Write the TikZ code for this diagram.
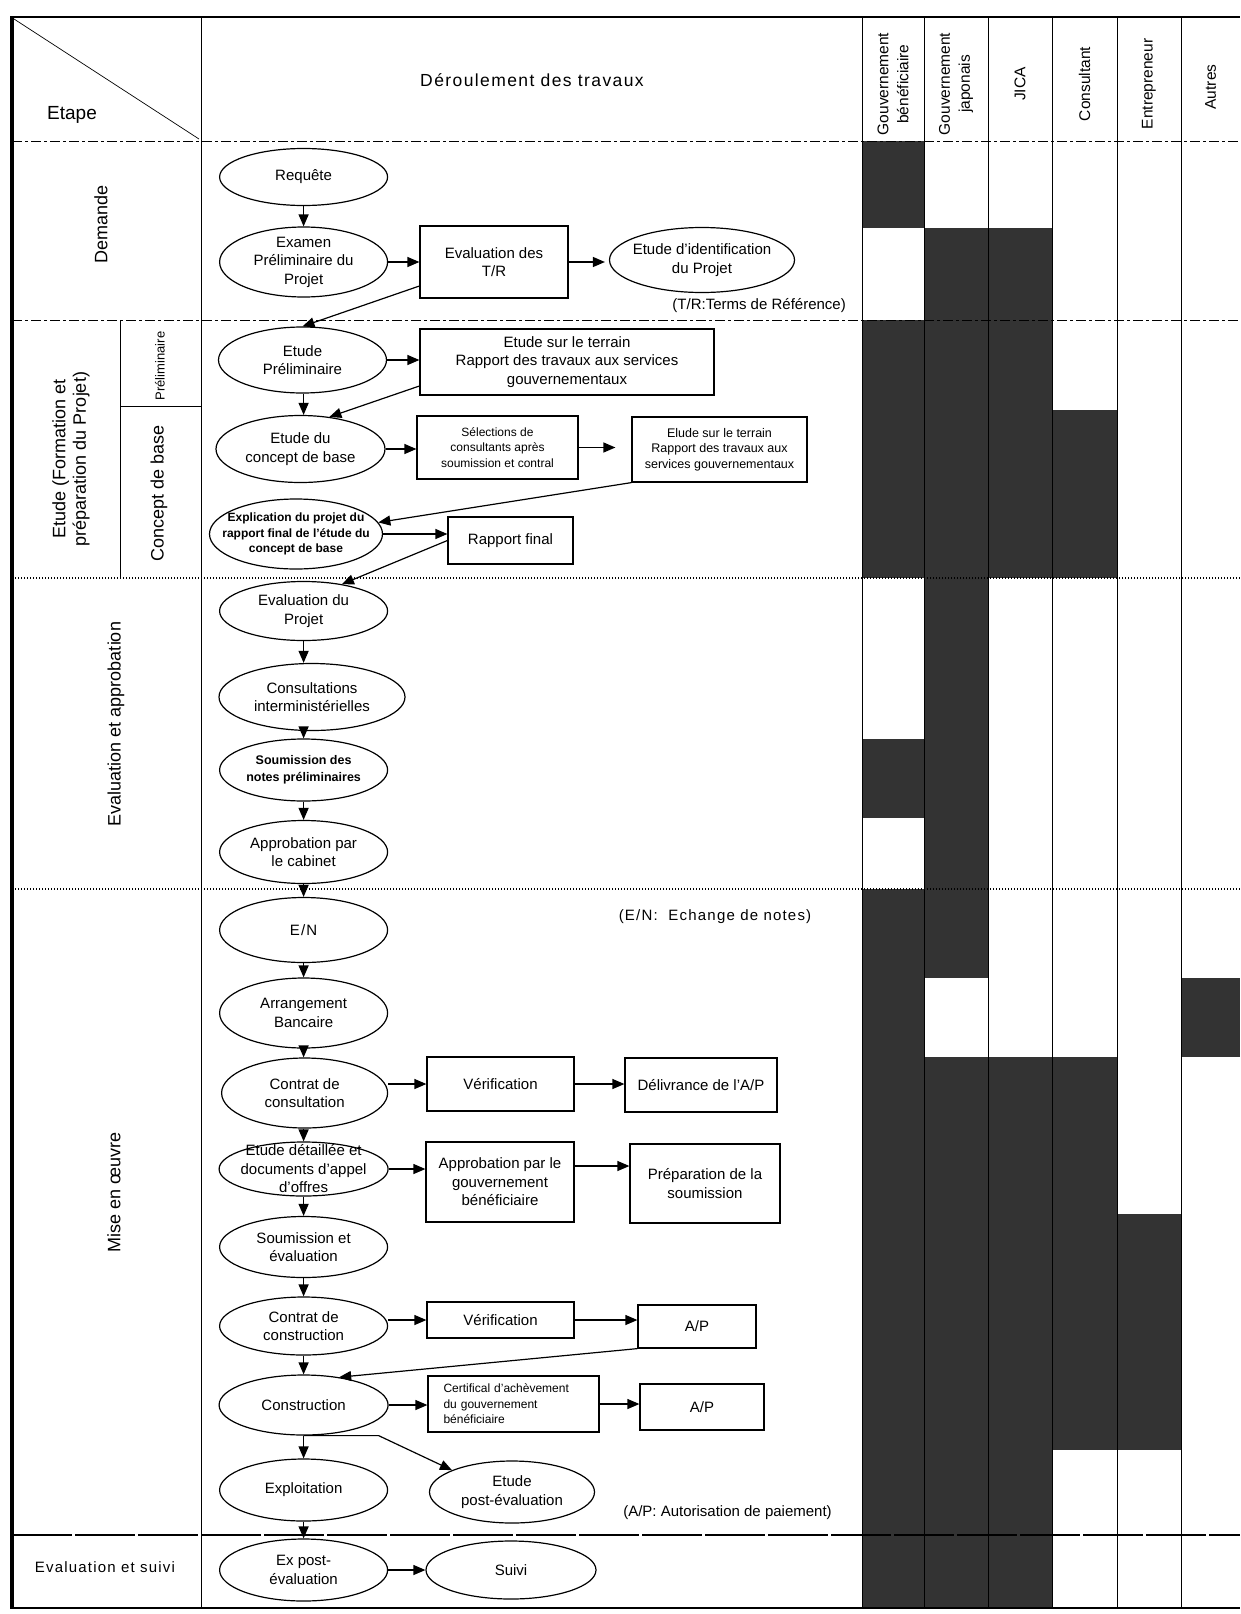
\documentclass[tikz,border=0pt]{standalone}
\usepackage{fontspec}
\setmainfont{Liberation Sans}
\newfontfamily\spacedfont[LetterSpace=8]{Liberation Sans}
\usetikzlibrary{shapes.geometric,arrows.meta,calc}
\newcommand\Ell[7]{%
  \node[ell,minimum width=#4pt,minimum height=#5pt] (#1) at (#2,#3) {};
  \node[#6] (#1-t) at (#1.center) {#7};}
\begin{document}
\begin{tikzpicture}[x=1pt,y=-1pt,
  ell/.style={ellipse,draw,line width=1.2pt,inner sep=0pt,fill=white},
  lbl/.style={align=center,inner sep=0pt,font=\fontsize{15}{18.5}\selectfont},
  lblsm/.style={align=center,inner sep=0pt,font=\bfseries\fontsize{12}{15.4}\selectfont},
  lblsb/.style={align=center,inner sep=0pt,font=\bfseries\fontsize{12.5}{17.5}\selectfont},
  lblsp/.style={align=center,inner sep=0pt,font=\spacedfont\fontsize{15}{18.5}\selectfont},
  bx/.style={rectangle,draw,line width=1.2pt,inner sep=0pt,align=center,fill=white,font=\fontsize{15}{18.5}\selectfont},
  bxsm/.style={bx,font=\fontsize{12}{15.4}\selectfont},
  arr/.style={-{Triangle[length=12pt,width=10pt]},line width=1.2pt},
  dk/.style={fill=black!80},
  ln/.style={line width=1pt},
  sepdash/.style={line width=0.9pt,dash pattern=on 10pt off 3pt on 3pt off 3pt},
  sepdot/.style={line width=1.6pt,dash pattern=on 1.4pt off 1.6pt},
  seplong/.style={line width=1.3pt,dash pattern=on 60pt off 3pt},
  side/.style={rotate=90,align=center,font=\fontsize{18}{20.5}\selectfont,inner sep=0pt},
  colh/.style={rotate=90,align=center,font=\fontsize{15.5}{20}\selectfont,inner sep=0pt},
  note/.style={inner sep=0pt,font=\fontsize{15}{18}\selectfont}]
\useasboundingbox (0,0) rectangle (1240,1614);
\fill[white] (0,0) rectangle (1240,1614);

% ---- shading of the participation table
\fill[dk] (862,141) rectangle (924,228);
\fill[dk] (862,320) rectangle (924,578);
\fill[dk] (862,739) rectangle (924,818);
\fill[dk] (862,889) rectangle (924,1608);
\fill[dk] (924,228) rectangle (988,978);
\fill[dk] (924,1057) rectangle (988,1608);
\fill[dk] (988,228) rectangle (1052,578);
\fill[dk] (988,1057) rectangle (1052,1608);
\fill[dk] (1052,410) rectangle (1117,578);
\fill[dk] (1052,1057) rectangle (1117,1450);
\fill[dk] (1117,1214) rectangle (1181,1450);
\fill[dk] (1181,978) rectangle (1240,1057);

% ---- grid
\draw[ln] (201,17) -- (201,1608);
\foreach \xx in {862,924,988,1052,1117,1181} \draw[ln] (\xx,17) -- (\xx,1608);
\draw[line width=0.8pt] (120,320) -- (120,578);
\draw[line width=0.8pt] (120,406) -- (201,406);
\draw[line width=0.7pt] (14,19) -- (199,139);
\draw[sepdash] (12,141) -- (1240,141);
\draw[sepdash] (12,320) -- (1240,320);
\draw[sepdot] (12,578) -- (1240,578);
\draw[sepdot] (12,889) -- (1240,889);
\draw[seplong] (12,1535) -- (1240,1535);
\draw[line width=2.6pt] (12,17) -- (1240,17);
\draw[line width=3.2pt] (12,16) -- (12,1609);
\draw[line width=2.8pt] (12,1608) -- (1240,1608);

% ---- headers
\node[font=\fontsize{19}{22}\selectfont] (etape) at (72,115) {Etape};
\node[font=\spacedfont\fontsize{17.5}{20}\selectfont] (derou) at (532,80) {Déroulement des travaux};
\node[colh] (hben) at (893,84) {Gouvernement\\bénéficiaire};
\node[colh] (hjap) at (956,84) {Gouvernement\\japonais};
\node[colh] (hjica) at (1020,84) {JICA};
\node[colh] (hcons) at (1084.5,84) {Consultant};
\node[colh] (hent) at (1149,84) {Entrepreneur};
\node[colh] (haut) at (1210.5,87) {Autres};

% ---- stage labels
\node[side] (ldem) at (101,224) {Demande};
\node[side] (letu) at (71,459) {Etude (Formation et\\préparation du Projet)};
\node[side,font=\fontsize{13}{15}\selectfont] (lpre) at (160,366) {Préliminaire};
\node[side] (lcon) at (159,493) {Concept de base};
\node[side] (leva) at (116,724) {Evaluation et approbation};
\node[side] (lmis) at (114,1192) {Mise en œuvre};
\node[font=\spacedfont\fontsize{15}{18}\selectfont] (levs) at (105,1567) {Evaluation et suivi};

% ---- Demande
\Ell{req}{303.6}{177}{168}{57}{lbl}{Requête}
\Ell{exa}{303.6}{262}{168}{70}{lbl}{Examen\\Préliminaire du\\Projet}
\node[bx,minimum width=148pt,minimum height=72pt] (tr) at (494,262) {Evaluation des\\T/R};
\Ell{eid}{702}{260}{185}{65}{lbl}{Etude d'identification\\du Projet}
\node[note,anchor=east] (trnote) at (846,306) {(T/R:Terms de Référence)};

% ---- Etude
\Ell{epr}{302.5}{360}{168}{66}{lbl}{Etude\\Préliminaire}
\node[bx,minimum width=294pt,minimum height=66pt] (et1) at (567,362) {Etude sur le terrain\\Rapport des travaux aux services\\gouvernementaux};
\Ell{ecb}{300.5}{449}{169}{67}{lbl}{Etude du\\concept de base}
\node[bxsm,minimum width=161pt,minimum height=63pt] (sel) at (497.5,447.5) {Sélections de\\consultants après\\soumission et contral};
\node[bx,font=\fontsize{12.5}{15.4}\selectfont,minimum width=175pt,minimum height=65pt] (el2) at (719.5,449.5) {Elude sur le terrain\\Rapport des travaux aux\\services gouvernementaux};
\Ell{exp}{296}{534}{173}{70}{lblsm}{Explication du projet du\\rapport final de l'étude du\\concept de base}
\node[bx,minimum width=125pt,minimum height=47pt] (rf) at (510.5,540.5) {Rapport final};

% ---- Evaluation et approbation
\Ell{evp}{303.6}{611}{168}{59}{lbl}{Evaluation du\\Projet}
\Ell{con}{312}{697}{186}{67}{lbl}{Consultations\\interministérielles}
\Ell{sou}{303.6}{770}{168}{62}{lblsb}{Soumission des\\notes préliminaires}
\Ell{apc}{303.6}{852}{168}{63}{lbl}{Approbation par\\le cabinet}

% ---- Mise en oeuvre
\Ell{en}{303.6}{930}{168}{65}{lblsp}{E/N}
\node[note] (ennote) at (715,917) {\spacedfont (E/N:\ \ Echange de notes)};
\Ell{arb}{303.6}{1013}{168}{70}{lbl}{Arrangement\\Bancaire}
\Ell{cc}{304.6}{1093}{166}{70}{lbl}{Contrat de\\consultation}
\node[bx,minimum width=147pt,minimum height=54pt] (ver1) at (500.5,1084) {Vérification};
\node[bx,minimum width=152pt,minimum height=54pt] (del) at (701,1085) {Délivrance de l'A/P};
\Ell{edo}{303.6}{1169}{169}{54}{lbl}{Etude détaillée et\\documents d'appel\\d'offres}
\node[bx,minimum width=148pt,minimum height=80pt] (app) at (500,1182) {Approbation par le\\gouvernement\\bénéficiaire};
\node[bx,minimum width=150pt,minimum height=79pt] (prep) at (705,1183.5) {Préparation de la\\soumission};
\Ell{soe}{303.6}{1247}{168}{61}{lbl}{Soumission et\\évaluation}
\Ell{cco}{303.6}{1326}{168}{58}{lbl}{Contrat de\\construction}
\node[bx,minimum width=147pt,minimum height=36pt] (ver2) at (500.5,1320) {Vérification};
\node[bx,minimum width=118pt,minimum height=43pt] (ap1) at (697,1326.5) {A/P};
\Ell{cst}{303.6}{1405}{169}{60}{lbl}{Construction}
\node[bx,font=\fontsize{12}{15.4}\selectfont,align=left,text width=140pt,minimum width=171pt,minimum height=56pt] (cert) at (513.5,1404) {Certifical d'achèvement\\du gouvernement\\bénéficiaire};
\node[bx,minimum width=124pt,minimum height=46pt] (ap2) at (702,1407) {A/P};
\Ell{exl}{303.6}{1490}{168}{62}{lbl}{Exploitation}
\Ell{epe}{512}{1492}{165}{62}{lbl}{Etude\\post-évaluation}
\node[note] (apnote) at (727.5,1513) {(A/P: Autorisation de paiement)};

% ---- Evaluation et suivi
\Ell{exq}{303.6}{1570}{168}{62}{lbl}{Ex post-\\évaluation}
\Ell{sui}{511}{1570}{170}{58}{lbl}{Suivi}

% ---- connectors
\coordinate (vx) at (303.6,0);
\foreach \a/\b in {req/exa,epr/ecb,evp/con,con/sou,sou/apc,apc/en,en/arb,arb/cc,cc/edo,edo/soe,soe/cco,cco/cst,cst/exl,exl/exq}
  \draw[arr] (vx |- \a.south) -- (vx |- \b.north);

\draw[arr] (exa.east) -- (exa.east -| tr.west);
\draw[arr,shorten >=4pt] (tr.east) -- (tr.east -| eid.west);
\draw[arr] (epr.east) -- (epr.east -| et1.west);
\draw[arr] (ecb.east) -- (ecb.east -| sel.west);
\draw[arr,shorten >=16pt] (sel.east) -- (sel.east -| el2.west);
\draw[arr] (exp.east) -- (exp.east -| rf.west);
\draw[arr] (cc.east |- ver1.west) -- (ver1.west);
\draw[arr] (ver1.east) -- (ver1.east -| del.west);
\draw[arr] (edo.east) -- (edo.east -| app.west);
\draw[arr] ([yshift=16pt]app.east) -- ([yshift=16pt]app.east -| prep.west);
\draw[arr] (cco.east |- ver2.west) -- (ver2.west);
\draw[arr] (ver2.east) -- (ver2.east -| ap1.west);
\draw[arr] (cst.east) -- (cst.east -| cert.west);
\draw[arr] (cert.east) -- (cert.east -| ap2.west);
\draw[arr] (exq.east) -- (exq.east -| sui.west);

\draw[arr] ([yshift=-24pt]tr.west) -- (epr.north);
\draw[arr] ([yshift=-24pt]et1.west) -- (ecb.48);
\draw[arr] (el2.south west) -- (exp.8);
\draw[arr] (rf.west) -- (evp.35);
\draw[arr] (ap1.south west) -- (cst.38);
\draw[arr] (vx |- cst.south) -- ++(75,0) -- (epe.160);
\end{tikzpicture}
\end{document}
